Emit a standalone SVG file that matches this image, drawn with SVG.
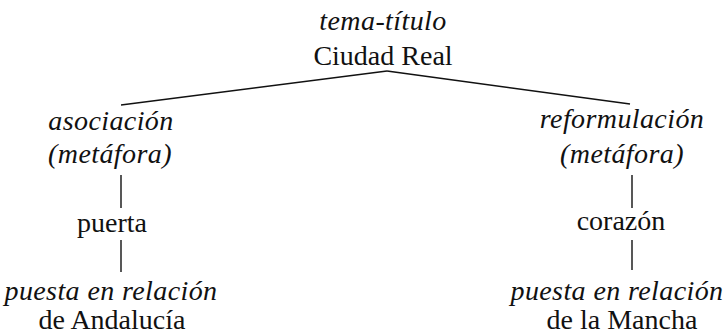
<svg xmlns="http://www.w3.org/2000/svg" width="726" height="335" viewBox="0 0 726 335">
<style>
text{font-family:"Liberation Serif","Times New Roman",serif;font-size:28px;fill:#111;text-anchor:middle}
.i{font-style:italic;letter-spacing:0.4px}
.c line{stroke:#111;stroke-width:1.4;fill:none}
</style>
<rect width="726" height="335" fill="#fff"/>
<g class="c" id="connectors">
<line x1="387" y1="71" x2="121" y2="105"/>
<line x1="387" y1="71" x2="630" y2="104"/>
<line x1="121" y1="175" x2="121" y2="208"/>
<line x1="121" y1="240" x2="121" y2="272"/>
<line x1="632" y1="175" x2="632" y2="208"/>
<line x1="632" y1="240" x2="632" y2="270"/>
</g>
<g id="root">
<text class="i" x="383" y="30">tema-título</text>
<text x="383" y="65">Ciudad Real</text>
</g>
<g id="asociacion">
<text class="i" x="111" y="130">asociación</text>
<text class="i" x="110" y="163">(metáfora)</text>
</g>
<g id="puerta">
<text x="112" y="232">puerta</text>
</g>
<g id="andalucia">
<text class="i" x="111" y="300">puesta en relación</text>
<text x="112" y="329">de Andalucía</text>
</g>
<g id="reformulacion">
<text class="i" x="622" y="128">reformulación</text>
<text class="i" x="622" y="163">(metáfora)</text>
</g>
<g id="corazon">
<text x="621" y="230">corazón</text>
</g>
<g id="mancha">
<text class="i" x="617" y="300">puesta en relación</text>
<text x="622" y="329">de la Mancha</text>
</g>
</svg>
